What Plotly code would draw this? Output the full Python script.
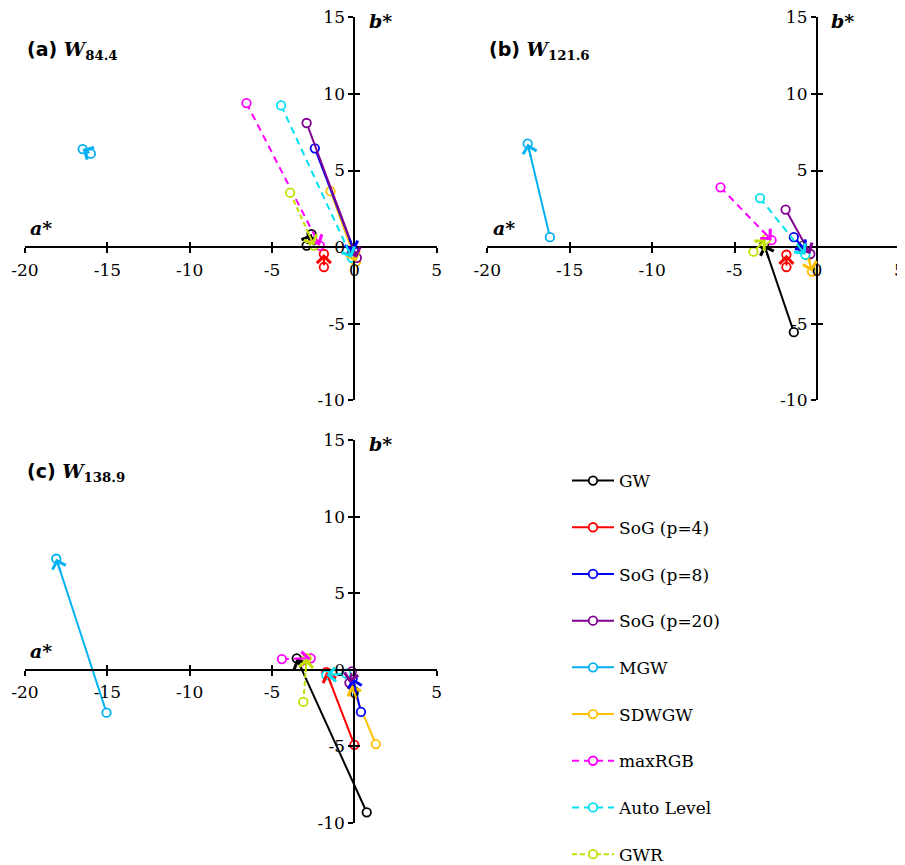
import math
import plotly.graph_objects as go

# ---------------- data ----------------
methods = ["GW", "SoG (p=4)", "SoG (p=8)", "SoG (p=20)", "MGW", "SDWGW", "maxRGB", "Auto Level", "GWR"]
colors = ["#000000", "#FF0000", "#0000FF", "#800090", "#00B0F0", "#FFC000", "#FF00FF", "#00E0F0", "#C4E000"]
dashes = ["solid", "solid", "solid", "solid", "solid", "solid", "7px,5px", "7px,5px", "5px,3px"]
draw_order = [5, 0, 1, 2, 3, 4, 6, 7, 8]  # SDWGW lies underneath the SoG lines

panel_letters = ["a", "b", "c"]
panel_subs = ["84.4", "121.6", "138.9"]

# (a) W84.4  : start point (a*, b*) -> end point (a*, b*)
w84_a_start = [-2.9, -1.85, -2.4, -2.9, -16.0, -1.45, -6.55, -4.45, -3.9]
w84_b_start = [0.1, -1.3, 6.45, 8.1, 6.1, 3.65, 9.4, 9.25, 3.55]
w84_a_end = [-2.6, -1.85, 0.0, 0.15, -16.5, 0.1, -2.1, -0.15, -2.45]
w84_b_end = [0.85, -0.45, -0.3, -0.7, 6.4, -0.95, 0.1, -0.7, 0.1]

# (b) W121.6
w121_a_start = [-1.4, -1.85, -1.4, -1.9, -16.2, -0.55, -5.85, -3.45, -3.85]
w121_b_start = [-5.55, -1.3, 0.65, 2.45, 0.65, -0.55, 3.9, 3.2, -0.3]
w121_a_end = [-3.2, -1.85, -0.65, -0.4, -17.55, -0.3, -2.75, -0.7, -3.1]
w121_b_end = [0.15, -0.5, -0.25, -0.45, 6.75, -1.6, 0.45, -0.5, 0.5]

# (c) W138.9
w138_a_start = [0.75, 0.0, 0.4, -0.15, -15.05, 1.3, -4.4, -0.5, -3.1]
w138_b_start = [-9.3, -4.9, -2.75, -0.1, -2.8, -4.85, 0.7, -0.25, -2.1]
w138_a_end = [-3.5, -1.7, -0.1, -0.3, -18.1, -0.2, -2.65, -1.7, -2.9]
w138_b_end = [0.75, -0.15, -0.55, -0.85, 7.25, -1.0, 0.75, -0.35, 0.75]

x_tickvals = [-20, -15, -10, -5, 0, 5]
x_ticktext = ["-20", "-15", "-10", "-5", "0", "5"]
y_tickvals = [-10, -5, 0, 5, 10, 15]
y_ticktext = ["-10", "-5", "0", "5", "10", "15"]

panels = [
    (w84_a_start, w84_b_start, w84_a_end, w84_b_end),
    (w121_a_start, w121_b_start, w121_a_end, w121_b_end),
    (w138_a_start, w138_b_start, w138_a_end, w138_b_end),
]

# ---------------- layout geometry ----------------
W, H = 905, 865
OFF = 8  # default page body margin


def px(xp):
    return (xp - OFF) / W


def py(yp):
    return 1 - (yp - OFF) / H


x_range = [-20, 5]
y_range = [-10, 15]
x_domains = [[px(25.0), px(436.7)], [px(487.3), px(899.3)], [px(25.0), px(436.7)]]
y_domains = [[py(400.3), py(17.3)], [py(400.3), py(17.3)], [py(823.0), py(440.0)]]

SERIF = "DejaVu Serif"
tickfont = dict(family=SERIF, size=17, color="black")

fig = go.Figure()
layout = dict(
    width=W, height=H, margin=dict(l=0, r=0, t=0, b=0, autoexpand=False),
    paper_bgcolor="white", plot_bgcolor="white", template="none",
    showlegend=True,
    legend=dict(x=px(567), y=py(463), xanchor="left", yanchor="top",
                font=dict(family=SERIF, size=17, color="black"),
                tracegroupgap=21.6, itemwidth=42, bgcolor="rgba(0,0,0,0)",
                traceorder="grouped"),
)
annotations = []

for k in range(3):
    xs, ys, xe, ye = panels[k]
    xd, yd = x_domains[k], y_domains[k]
    # paper position of the crossing point (a*=0, b*=0)
    xpos = yd[0] + (0 - y_range[0]) / (y_range[1] - y_range[0]) * (yd[1] - yd[0])
    ypos = xd[0] + (0 - x_range[0]) / (x_range[1] - x_range[0]) * (xd[1] - xd[0])
    n = k + 1
    no = k + 4
    xn = "x" if n == 1 else f"x{n}"
    yn = "y" if n == 1 else f"y{n}"
    common = dict(showgrid=False, zeroline=False, fixedrange=True, automargin=False)
    layout[f"xaxis{n}"] = dict(domain=xd, range=x_range, anchor="free", position=xpos,
                               showline=True, linecolor="black", linewidth=2,
                               ticks="outside", ticklen=5, tickwidth=2, tickcolor="black",
                               tickvals=x_tickvals, ticktext=x_ticktext, tickfont=tickfont,
                               ticklabelstandoff=2, ticklabeloverflow="allow", **common)
    layout[f"yaxis{n}"] = dict(domain=yd, range=y_range, anchor="free", position=ypos,
                               showline=True, linecolor="black", linewidth=2,
                               ticks="outside", ticklen=5, tickwidth=2, tickcolor="black",
                               tickvals=y_tickvals, ticktext=y_ticktext, tickfont=tickfont,
                               ticklabeloverflow="allow", **common)
    # overlay axes giving the other half of the crossing tick marks
    layout[f"xaxis{no}"] = dict(overlaying=xn, range=x_range, anchor="free", position=xpos,
                                showline=False, ticks="inside", ticklen=5, tickwidth=2,
                                tickcolor="black", tickvals=x_tickvals, showticklabels=False,
                                **common)
    layout[f"yaxis{no}"] = dict(overlaying=yn, range=y_range, anchor="free", position=ypos,
                                showline=False, ticks="inside", ticklen=5, tickwidth=2,
                                tickcolor="black", tickvals=y_tickvals, showticklabels=False,
                                **common)
    fig.add_trace(go.Scatter(x=[None], y=[None], xaxis=f"x{no}", yaxis=f"y{no}",
                             showlegend=False, hoverinfo="skip"))

    for i in draw_order:
        m = methods[i]
        fig.add_trace(go.Scatter(
            x=[xs[i], xe[i]], y=[ys[i], ye[i]], mode="lines+markers",
            name=m, legendgroup=m, legendrank=10 * (i + 1), showlegend=(k == 0),
            line=dict(color=colors[i], width=2, dash=dashes[i]),
            marker=dict(symbol="circle", size=8.5, color="white",
                        line=dict(color=colors[i], width=1.8)),
            xaxis=xn, yaxis=yn, cliponaxis=False,
        ))
        # arrowhead at the end point, oriented along the segment
        dx, dy = xe[i] - xs[i], ye[i] - ys[i]
        L = math.hypot(dx, dy)
        f = min(1.0, 1.0 / L) if L > 0 else 1.0
        annotations.append(dict(
            x=xe[i], y=ye[i], ax=xe[i] - f * dx, ay=ye[i] - f * dy,
            xref=xn, yref=yn, axref=xn, ayref=yn, text="",
            showarrow=True, arrowhead=4, arrowsize=1.35, arrowwidth=2,
            arrowcolor=colors[i], standoff=0,
        ))

    # axis names and panel title
    annotations.append(dict(x=-19.8, y=1.25, xref=xn, yref=yn, xanchor="left", yanchor="middle",
                            text="<b><i>a*</i></b>", showarrow=False,
                            font=dict(family=SERIF, size=19, color="black")))
    annotations.append(dict(x=0.8, y=15, xref=xn, yref=yn, xanchor="left", yanchor="middle",
                            yshift=-4, borderpad=0,
                            text="<b><i>b*</i></b>", showarrow=False,
                            font=dict(family=SERIF, size=19, color="black")))
    annotations.append(dict(x=-20, y=12.85, xref=xn, yref=yn, xanchor="left", yanchor="middle",
                            text=(f"<b><span style='font-family:DejaVu Sans'>({panel_letters[k]})</span> "
                                  f"<i>W</i><sub>{panel_subs[k]}</sub></b>"),
                            showarrow=False,
                            font=dict(family=SERIF, size=19, color="black")))

layout["annotations"] = annotations
fig.update_layout(**layout)
fig.write_html("out.html")
